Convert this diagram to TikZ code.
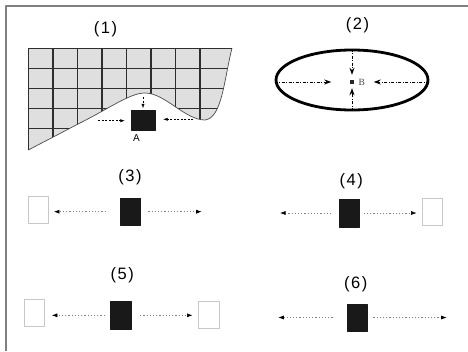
\documentclass[tikz,border=0pt]{standalone}
\usepackage{fontspec}
\setmainfont{Liberation Sans}
\newfontfamily\serifB{Liberation Serif}
\usetikzlibrary{arrows.meta,shapes.geometric}
\newcommand{\panelno}[1]{(\kern1.5pt#1\kern1.5pt)}

\begin{document}
\begin{tikzpicture}[x=1pt, y=-1pt, line join=round,
  blk/.style={draw=black!90, fill=black!90, inner sep=0pt, minimum width=20.5pt, minimum height=27.5pt},
  wbox/.style={draw=black!22, line width=0.7pt, inner sep=0pt, minimum width=20.5pt, minimum height=27pt},
  ttl/.style={font=\fontsize{16.5}{18}\selectfont},
  dotarr/.style={line width=0.6pt, black!50, dash pattern=on 1.2pt off 2pt, -{Latex[length=5.5pt,width=4pt,color=black]}},
  dasharr/.style={line width=0.5pt, dash pattern=on 2pt off 1.5pt, -{Latex[length=4.5pt,width=3.2pt]}},
  dasharrB/.style={line width=1pt, dash pattern=on 3pt off 1.5pt on 1pt off 1.5pt, -{Stealth[length=7pt,width=5pt]}},
  gridln/.style={line width=1.5pt, draw=black!82}]
\useasboundingbox (0,0) rectangle (468,351);
\draw[black!50, line width=1.5pt] (468,6) -- (6,6) -- (6,351);

% (1)
\node[ttl] (t1) at (105.5,29) {\panelno{1}};
\begin{scope}
\clip (28.3,48) -- (232,48) .. controls (224,80) and (222,118) .. (205,120)
  .. controls (185,120) and (165,93) .. (145,93)
  .. controls (130,93) and (110,108) .. (80,123) -- (28.3,150) -- cycle;
\fill[gray!25] (20,40) rectangle (240,160);
\foreach \i in {1,...,7} \draw[gridln] (28.3+24.5*\i,40) -- ++(0,120);
\foreach \i in {1,...,4} \draw[gridln] (20,48.3+20*\i) -- ++(220,0);
\end{scope}
\draw[black!70, line width=0.7pt] (232,48) .. controls (224,80) and (222,118) .. (205,120)
  .. controls (185,120) and (165,93) .. (145,93)
  .. controls (130,93) and (110,108) .. (80,123) -- (28.3,150);
\draw[gridln] (232,48.3) -- (28.3,48.3) -- (28.3,150);
\node[blk, minimum width=24pt, minimum height=20pt] (sqA) at (143,120) {};
\node[font=\fontsize{10}{12}\selectfont] (labA) at (136.5,138.3) {A};
\coordinate (a1t) at (143,97);
\coordinate (a1l) at (98.3,120.7);
\coordinate (a1r) at (193.3,119.3);
\draw[dasharr, shorten >=1.5pt] (a1t) -- (sqA.north);
\draw[dasharr, shorten >=6pt] (a1l) -- (sqA.west |- a1l);
\draw[dasharr, shorten >=8pt] (a1r) -- (sqA.east |- a1r);

% (2)
\node[ttl] (t2) at (357.5,25.5) {\panelno{2}};
\node[draw, ellipse, line width=2.8pt, minimum width=152pt, minimum height=60pt] (ell) at (352,80) {};
\node[fill=black!85, inner sep=0pt, minimum size=4pt] (sqB) at (351.5,82) {};
\node[font=\serifB\fontsize{9.5}{11}\selectfont, text=black!70] (labB) at (361.7,82) {B};
\draw[dasharrB, shorten >=5pt] (ell.north) -- (ell.north |- sqB.north);
\draw[dasharrB, shorten >=4pt] (ell.south) -- (ell.south |- sqB.south);
\draw[dasharrB, shorten >=18pt] (ell.west |- sqB) -- (sqB.west);
\draw[dasharrB, shorten >=20pt] (ell.east |- sqB) -- (sqB.east);

% (3)
\node[ttl] (t3) at (130,177) {\panelno{3}};
\node[wbox] (w3) at (38.3,210) {};
\node[blk] (b3) at (130.3,211.7) {};
\coordinate (c3) at (201.7,211.7);
\draw[dotarr, shorten <=14pt, shorten >=5pt] (b3.west) -- (b3.west -| w3.east);
\draw[dotarr, shorten <=7.6pt] (b3.east) -- (c3);

% (4)
\node[ttl] (t4) at (351.3,181.7) {\panelno{4}};
\node[blk] (b4) at (349.3,213) {};
\node[wbox] (w4) at (432.2,211.5) {};
\coordinate (c4) at (280,213);
\draw[dotarr, shorten <=7.6pt] (b4.west) -- (c4);
\draw[dotarr, shorten <=4pt, shorten >=5pt] (b4.east) -- (b4.east -| w4.west);

% (5)
\node[ttl] (t5) at (122.3,275.5) {\panelno{5}};
\node[wbox] (w5a) at (34.5,313) {};
\node[blk] (b5) at (120.8,315.3) {};
\node[wbox] (w5b) at (208.7,314.5) {};
\draw[dotarr, shorten <=5.5pt, shorten >=6.7pt] (b5.west) -- (b5.west -| w5a.east);
\draw[dotarr, shorten <=9pt, shorten >=5.6pt] (b5.east) -- (b5.east -| w5b.west);

% (6)
\node[ttl] (t6) at (355.8,284) {\panelno{6}};
\node[blk] (b6) at (357,317.5) {};
\coordinate (c6l) at (278.3,317.5);
\coordinate (c6r) at (446.7,317.5);
\draw[dotarr, shorten <=14pt] (b6.west) -- (c6l);
\draw[dotarr, shorten <=6pt] (b6.east) -- (c6r);
\end{tikzpicture}
\end{document}
